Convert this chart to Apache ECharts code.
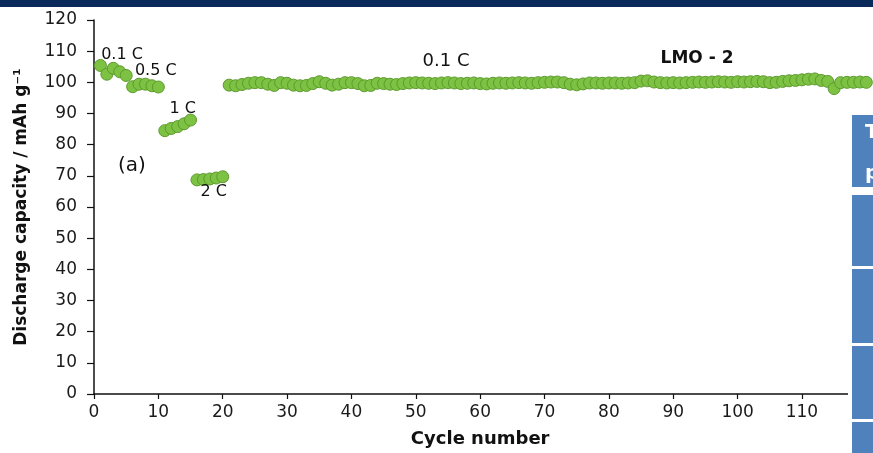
<!DOCTYPE html>
<html>
<head>
<meta charset="utf-8">
<script src="https://cdn.jsdelivr.net/npm/echarts@6/dist/echarts.min.js"></script>
<style>html,body{margin:0;padding:0;background:#fff;}#c{width:873px;height:453px;}</style>
</head>
<body>
<div id="c"></div>
<script>
// Cycle numbers 1..120
const cycles = [];
for (let i = 1; i <= 120; i++) cycles.push(i);

// Discharge capacity (mAh g^-1)
const rate01a = [105.4, 102.6, 104.5, 103.4, 102.2];
const rate05 = [98.6, 99.4, 99.4, 98.9, 98.5];
const rate1 = [84.5, 85.2, 85.8, 86.7, 87.9];
const rate2 = [68.7, 68.8, 69.0, 69.3, 69.7];
const rate01b = [
  99.1, 98.9, 99.3, 99.7, 99.9, 99.9, 99.4, 99.0, 99.9, 99.7,
  99.1, 98.9, 99.0, 99.6, 100.2, 99.7, 99.1, 99.4, 99.9, 99.9,
  99.6, 98.9, 99.0, 99.7, 99.6, 99.4, 99.3, 99.6, 99.8, 99.9,
  99.8, 99.7, 99.6, 99.8, 99.9, 99.8, 99.6, 99.7, 99.8, 99.6,
  99.5, 99.7, 99.8, 99.7, 99.8, 99.9, 99.8, 99.7, 99.9, 100.0,
  100.1, 100.1, 99.9, 99.4, 99.2, 99.5, 99.8, 99.8, 99.7, 99.8,
  99.8, 99.7, 99.8, 99.9, 100.4, 100.5, 100.1, 99.9, 99.8, 99.9,
  99.8, 99.9, 100.0, 100.1, 100.0, 100.1, 100.2, 100.1, 100.0, 100.2,
  100.1, 100.2, 100.3, 100.2, 99.9, 100.0, 100.3, 100.5, 100.6, 100.8,
  101.0, 101.1, 100.6, 100.3, 98.0, 99.9, 100.0, 100.0, 100.1, 100.0
];
const capacity = [].concat(rate01a, rate05, rate1, rate2, rate01b);

// Axis ticks
const xTicks = { min: 0, max: 120, interval: 10 };
const yTicks = { min: 0, max: 120, interval: 10 };

// Annotations (text, cycle, capacity)
const annoText = ['0.1 C', '0.5 C', '1 C', '2 C', '(a)', '0.1 C', 'LMO - 2'];
const annoX = [4.35, 9.6, 13.8, 18.6, 5.9, 54.7, 93.7];
const annoY = [108.9, 103.8, 91.4, 64.9, 73.2, 106.7, 107.7];
const annoStyle = ['s', 's', 's', 's', 'a', 'm', 'b'];

const chart = echarts.init(document.getElementById('c'), null, { renderer: 'canvas' });
const FONT = 'DejaVu Sans';

const styles = {
  s: { fontSize: 16, fontWeight: 'normal' },
  a: { fontSize: 20, fontWeight: 'normal' },
  m: { fontSize: 18, fontWeight: 'normal' },
  b: { fontSize: 17, fontWeight: 'bold' }
};

const annoData = annoText.map((t, i) => ({
  value: [annoX[i], annoY[i]],
  label: Object.assign({ show: true, formatter: t, position: 'inside', color: '#111', fontFamily: FONT }, styles[annoStyle[i]])
}));

chart.setOption({
  animation: false,
  backgroundColor: '#ffffff',
  grid: { left: 94, top: 20, right: 873 - 94 - 6.436 * 120, bottom: 57, containLabel: false },
  xAxis: {
    type: 'value', min: xTicks.min, max: xTicks.max, interval: xTicks.interval,
    name: 'Cycle number', nameLocation: 'middle', nameGap: 36,
    nameTextStyle: { fontFamily: FONT, fontSize: 18, fontWeight: 'bold', color: '#111' },
    axisLine: { show: true, onZero: false, lineStyle: { color: '#111', width: 1.5 } },
    axisTick: { show: true, length: 5, lineStyle: { color: '#111', width: 1.2 } },
    axisLabel: { fontFamily: FONT, fontSize: 17, color: '#1a1a1a', margin: 10, showMaxLabel: false },
    splitLine: { show: false }
  },
  yAxis: {
    type: 'value', min: yTicks.min, max: yTicks.max, interval: yTicks.interval,
    name: 'Discharge capacity / mAh g\u207B\u00B9', nameLocation: 'middle', nameGap: 64,
    nameTextStyle: { fontFamily: FONT, fontSize: 17, fontWeight: 'bold', color: '#111' },
    axisLine: { show: true, onZero: false, lineStyle: { color: '#111', width: 1.5 } },
    axisTick: { show: true, length: 7, lineStyle: { color: '#111', width: 1.2 } },
    axisLabel: { fontFamily: FONT, fontSize: 17, color: '#1a1a1a', margin: 17 },
    splitLine: { show: false }
  },
  series: [
    {
      type: 'scatter',
      data: cycles.map((c, i) => [c, capacity[i]]),
      symbol: 'circle',
      symbolSize: 12,
      clip: false,
      itemStyle: { color: '#7dc242', borderColor: '#5c9a2e', borderWidth: 1, opacity: 1 }
    },
    {
      type: 'scatter',
      data: annoData,
      symbolSize: 0,
      clip: false,
      silent: true,
      itemStyle: { opacity: 1 },
      z: 5
    }
  ],
  graphic: [
    { type: 'rect', shape: { x: 0, y: 0, width: 873, height: 7 }, style: { fill: '#0b2a5c' }, z: 100 },
    { type: 'rect', shape: { x: 848, y: 112, width: 25, height: 341 }, style: { fill: '#ffffff' }, z: 100 },
    { type: 'text', x: 865, y: 123, style: { text: 'Table', fill: '#ffffff', font: 'bold 20px "DejaVu Sans"' }, z: 102 },
    { type: 'text', x: 865, y: 164, style: { text: 'p', fill: '#ffffff', font: 'bold 20px "DejaVu Sans"' }, z: 102 },
    { type: 'rect', shape: { x: 852, y: 115, width: 21, height: 72 }, style: { fill: '#4f81bd' }, z: 101 },
    { type: 'rect', shape: { x: 852, y: 187, width: 21, height: 8 }, style: { fill: '#ffffff' }, z: 103 },
    { type: 'rect', shape: { x: 852, y: 195, width: 21, height: 71 }, style: { fill: '#4f81bd' }, z: 103 },
    { type: 'rect', shape: { x: 852, y: 269, width: 21, height: 74 }, style: { fill: '#4f81bd' }, z: 103 },
    { type: 'rect', shape: { x: 852, y: 346, width: 21, height: 73 }, style: { fill: '#4f81bd' }, z: 103 },
    { type: 'rect', shape: { x: 852, y: 422, width: 21, height: 31 }, style: { fill: '#4f81bd' }, z: 103 }
  ]
});
</script>
</body>
</html>
